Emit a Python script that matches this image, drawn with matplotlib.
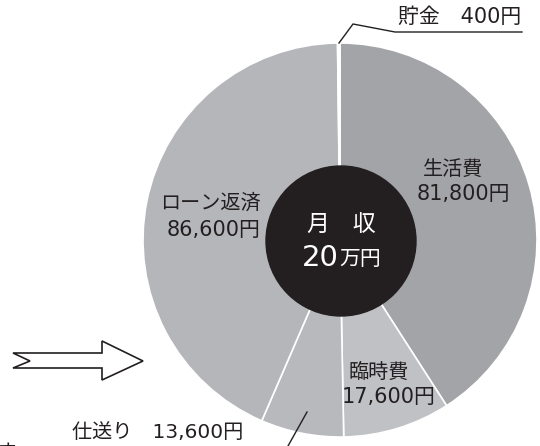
import matplotlib.pyplot as plt
from matplotlib.patches import Circle, Polygon

JP = ['Noto Sans CJK JP', 'DejaVu Sans']
NUM = ['DejaVu Sans', 'Noto Sans CJK JP']  # wide digits, kanji from CJK
plt.rcParams['font.family'] = JP

# 月収の内訳（上から時計回り）
kategori = ["生活費", "臨時費", "仕送り", "ローン返済", "貯金"]
kingaku = [81800, 17600, 13600, 86600, 400]
iro = ["#a3a4a8", "#c0c1c4", "#b8b9bc", "#b5b6ba", "#ffffff"]

TEXT = "#231f20"

fig = plt.figure(figsize=(5.4, 4.46), dpi=100)
ax = fig.add_axes([0, 0, 1, 1])

cx, cy, r = 340, 240, 197
# with the inverted y axis, counterclock in data = clockwise on screen
ax.pie(kingaku, colors=iro, startangle=-90, counterclock=True,
       center=(cx, cy), radius=r, frame=True,
       wedgeprops=dict(edgecolor="white", linewidth=1.2))
ax.set_xlim(0, 540)
ax.set_ylim(446, 0)  # pixel-like coordinates, y going down
ax.set_aspect("equal")
ax.axis("off")


def yen(v):
    return f"{v:,}円"


# black centre
ax.add_patch(Circle((cx + 1, cy + 1), 75, color=TEXT, zorder=3))
ax.text(341, 225, "月　収", color="white", fontsize=16.5, ha="center", va="center", zorder=4)
ax.text(339, 258, "20", color="white", fontsize=21, family=NUM, ha="right", va="center", zorder=4)
ax.text(339, 259, "万円", color="white", fontsize=15, ha="left", va="center", zorder=4)

# wedge labels: name line and amount line
pos = {"生活費": (423, 169, 417, 194),
       "ローン返済": (160, 203, 167, 230),
       "臨時費": (348, 372, 342, 397)}
for name, v in zip(kategori, kingaku):
    if name in pos:
        x1, y1, x2, y2 = pos[name]
        ax.text(x1, y1, name, color=TEXT, fontsize=14.5, ha="left", va="center")
        ax.text(x2, y2, yen(v), color=TEXT, fontsize=15, family=NUM, ha="left", va="center")

# 貯金 with leader line
ax.plot([339, 353, 395, 522], [43, 24, 32, 32], color=TEXT, lw=1)
ax.text(398, 17, kategori[4] + "　" + yen(kingaku[4]), color=TEXT, fontsize=15,
        family=NUM, ha="left", va="center")

# 仕送り with leader line
ax.plot([307, 288], [412, 446], color=TEXT, lw=1)
ax.text(72, 432, kategori[2] + "　" + yen(kingaku[2]), color=TEXT, fontsize=14.5,
        family=NUM, ha="left", va="center")

# outlined arrow
ax.add_patch(Polygon([(13, 353), (102, 353), (102, 341), (143, 361),
                      (102, 380), (102, 368), (13, 368), (30, 361)],
                     closed=True, facecolor="white", edgecolor=TEXT, lw=1.2))

# cut-off character at the bottom left
ax.text(6, 452, "す", color=TEXT, fontsize=14, ha="center", va="center")

fig.savefig("out.png", dpi=100)
